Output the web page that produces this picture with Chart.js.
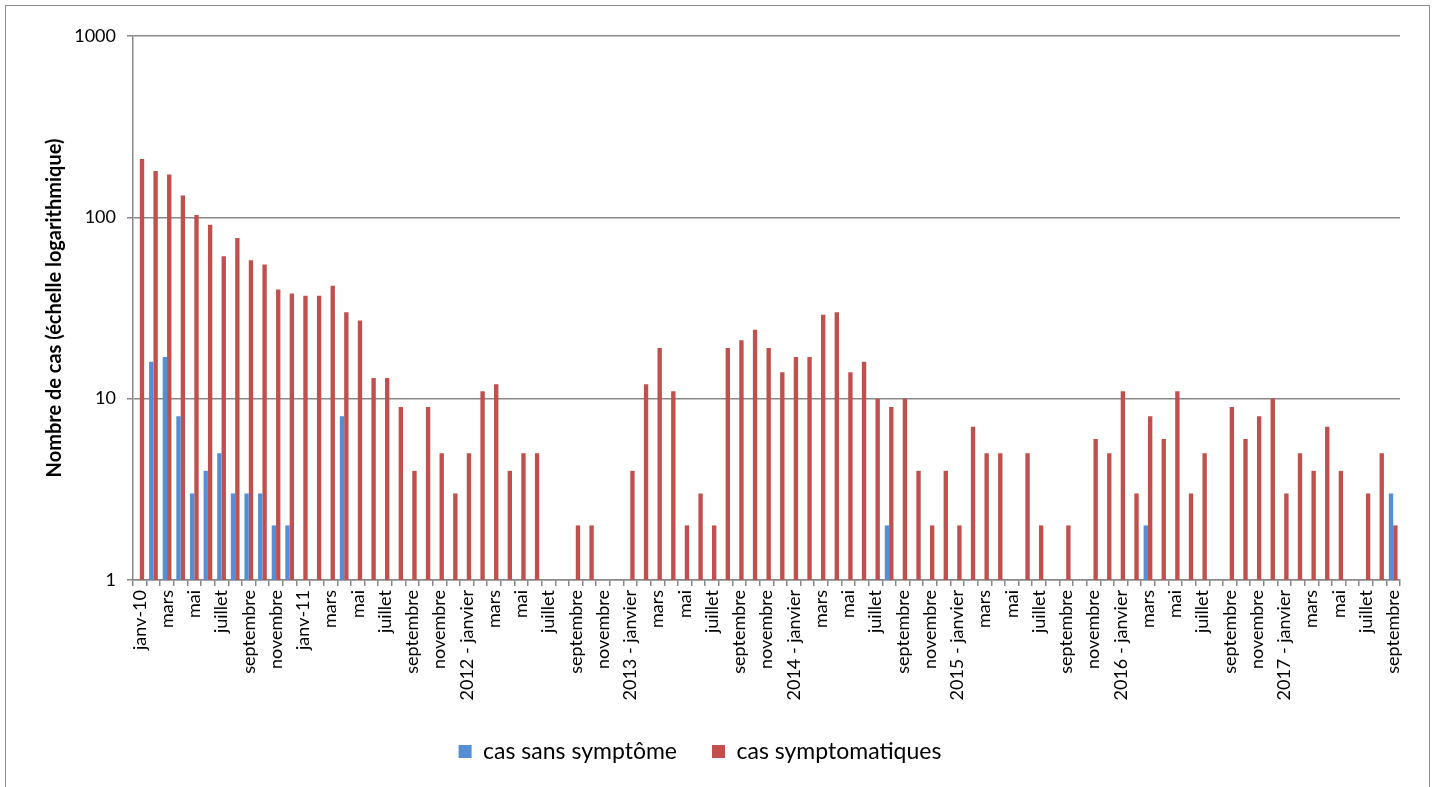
<!DOCTYPE html>
<html>
<head>
<meta charset="utf-8">
<script src="https://cdn.jsdelivr.net/npm/chart.js@4/dist/chart.umd.min.js"></script>
<style>
  body { margin: 0; background: #fff; }
  #frame { position: absolute; left: 5px; top: 5px; width: 1423px; height: 800px; border: 1px solid #8c8c8c; }
  #wrap { position: absolute; left: 0; top: 0; width: 1435px; height: 787px; }
</style>
</head>
<body>
<div id="frame"></div>
<div id="wrap"><canvas id="chart"></canvas></div>
<script>
// mois (un sur deux affiché sur l'axe)
const monthNames = ['janvier', 'février', 'mars', 'avril', 'mai', 'juin', 'juillet', 'août', 'septembre', 'octobre', 'novembre', 'décembre'];
const yearLabels = ['janv-10', 'janv-11', '2012 - janvier', '2013 - janvier', '2014 - janvier', '2015 - janvier', '2016 - janvier', '2017 - janvier'];
const lastYearMonths = 9; // 2017 : janvier à septembre

// cas symptomatiques, par année
const symptomatic = [
  210, 180, 172, 132, 103, 91, 61, 77, 58, 55, 40, 38,      // 2010
  37, 37, 42, 30, 27, 13, 13, 9, 4, 9, 5, 3,                // 2011
  5, 11, 12, 4, 5, 5, null, null, 2, 2, null, null,         // 2012
  4, 12, 19, 11, 2, 3, 2, 19, 21, 24, 19, 14,               // 2013
  17, 17, 29, 30, 14, 16, 10, 9, 10, 4, 2, 4,               // 2014
  2, 7, 5, 5, null, 5, 2, null, 2, null, 6, 5,              // 2015
  11, 3, 8, 6, 11, 3, 5, null, 9, 6, 8, 10,                 // 2016
  3, 5, 4, 7, 4, null, 3, 5, 2                              // 2017
];

// cas sans symptôme
const asymptomatic = [
  null, 16, 17, 8, 3, 4, 5, 3, 3, 3, 2, 2,
  null, null, null, 8, null, null, null, null, null, null, null, null,
  null, null, null, null, null, null, null, null, null, null, null, null,
  null, null, null, null, null, null, null, null, null, null, null, null,
  null, null, null, null, null, null, null, 2, null, null, null, null,
  null, null, null, null, null, null, null, null, null, null, null, null,
  null, null, 2, null, null, null, null, null, null, null, null, null,
  null, null, null, null, null, null, null, null, 3
];

const yTicks = [1, 10, 100, 1000];

const labels = [];
yearLabels.forEach((yl, y) => {
  const n = y === yearLabels.length - 1 ? lastYearMonths : 12;
  for (let m = 0; m < n; m++) labels.push(m === 0 ? yl : monthNames[m]);
});

Chart.defaults.font.family = 'Lato, "Open Sans", sans-serif';
Chart.defaults.color = '#000';

new Chart(document.getElementById('chart'), {
  type: 'bar',
  data: {
    labels: labels,
    datasets: [
      {
        label: 'cas sans symptôme',
        data: asymptomatic,
        backgroundColor: '#558ED5',
        barPercentage: 1,
        categoryPercentage: 0.64
      },
      {
        label: 'cas symptomatiques',
        data: symptomatic,
        backgroundColor: '#C0504D',
        barPercentage: 1,
        categoryPercentage: 0.64
      }
    ]
  },
  options: {
    responsive: true,
    maintainAspectRatio: false,
    animation: false,
    layout: { padding: { left: 0, right: 35, top: 36, bottom: 14 } },
    plugins: {
      tooltip: { enabled: false },
      legend: {
        position: 'bottom',
        labels: {
          boxWidth: 13,
          boxHeight: 13,
          padding: 35,
          font: { size: 23 },
          color: '#000'
        }
      }
    },
    scales: {
      x: {
        afterFit: s => { s.height = 125; },
        ticks: {
          autoSkip: false,
          minRotation: 90,
          maxRotation: 90,
          padding: 4,
          font: { size: 18 },
          color: '#000',
          callback: function(v, i) { return i % 2 === 0 ? this.getLabelForValue(v) : ''; }
        },
        grid: { offset: true, drawOnChartArea: false, color: '#888', lineWidth: 1.5, tickLength: 6 },
        border: { color: '#888', width: 1.5 }
      },
      y: {
        type: 'logarithmic',
        min: 1,
        max: 1000,
        afterFit: s => { s.width = 133; },
        afterBuildTicks: s => { s.ticks = yTicks.map(v => ({ value: v })); },
        ticks: {
          padding: 11,
          font: { size: 18 },
          color: '#000',
          callback: v => String(v)
        },
        grid: { color: '#888', lineWidth: 1.5, tickLength: 6 },
        border: { color: '#888', width: 1.5 },
        title: {
          display: true,
          text: 'Nombre de cas (échelle logarithmique)',
          font: { size: 20, weight: 'bold' },
          color: '#000',
          padding: { top: 43, bottom: 0 }
        }
      }
    }
  }
});
</script>
</body>
</html>
